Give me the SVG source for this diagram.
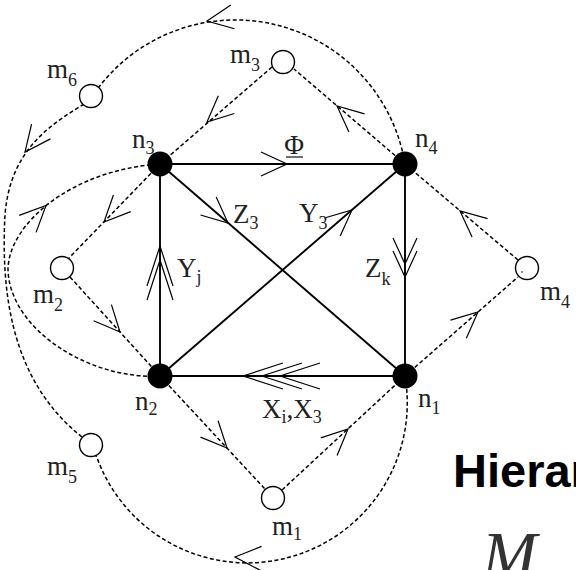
<svg xmlns="http://www.w3.org/2000/svg" width="576" height="570" viewBox="0 0 576 570">
<style>
.e{fill:none;stroke:#000;stroke-width:1.9}
.d{fill:none;stroke:#000;stroke-width:1.5;stroke-dasharray:4 2.5}
.ch{fill:none;stroke:#000;stroke-width:1.2}
.dot{fill:#000}
.ring{fill:#fff;stroke:#000;stroke-width:1.4}
.lb{font-family:"Liberation Serif","Times New Roman",serif;font-size:27px;fill:#222}
.sb{font-size:18px}
.title{font-family:"Liberation Sans",Arial,sans-serif;font-weight:bold;font-size:47px;fill:#000}
.big{font-family:"Liberation Serif","Times New Roman",serif;font-style:italic;font-size:66px;fill:#333}
</style>
<defs>
<path id="a" d="M-26,-12 L0,0 L-26,12"/>
<path id="b" d="M-40,-13 L0,0 L-40,13"/>
</defs>
<rect width="576" height="570" fill="#fff"/>
<g id="connectors">
<line class="e" x1="160" y1="164" x2="405" y2="164"/>
<line class="e" x1="160" y1="164" x2="160" y2="376"/>
<line class="e" x1="405" y1="164" x2="405" y2="376"/>
<line class="e" x1="160" y1="376" x2="405" y2="376"/>
<line class="e" x1="160" y1="164" x2="405" y2="376"/>
<line class="e" x1="160" y1="376" x2="405" y2="164"/>
<use class="ch" href="#a" transform="translate(287,164)"/>
<use class="ch" href="#a" transform="translate(228,223) rotate(40.9)"/>
<use class="ch" href="#a" transform="translate(352,210) rotate(-40.9)"/>
<use class="ch" href="#b" transform="translate(160,246) rotate(-90)"/>
<use class="ch" href="#b" transform="translate(160,260) rotate(-90)"/>
<use class="ch" href="#a" transform="translate(405,264) rotate(90)"/>
<use class="ch" href="#a" transform="translate(405,277) rotate(90)"/>
<use class="ch" href="#b" transform="translate(243,376) rotate(180)"/>
<use class="ch" href="#b" transform="translate(262,376) rotate(180)"/>
<use class="ch" href="#b" transform="translate(280,376) rotate(180)"/>
<line class="d" x1="272" y1="67" x2="160" y2="164"/>
<line class="d" x1="405" y1="164" x2="294" y2="69"/>
<line class="d" x1="160" y1="164" x2="69" y2="258"/>
<line class="d" x1="70" y1="277" x2="160" y2="376"/>
<line class="d" x1="160" y1="376" x2="265" y2="489"/>
<line class="d" x1="282" y1="490" x2="405" y2="376"/>
<line class="d" x1="405" y1="376" x2="518" y2="277"/>
<line class="d" x1="518" y1="260" x2="405" y2="164"/>
<path class="d" d="M405 164 A172 172 0 0 0 99 87"/>
<path class="d" d="M84 104 C50 125 10 150 5 215 C1 290 10 380 82 437"/>
<path class="d" d="M160 376 C90 380 10 330 8 270 C8 225 70 170 160 164"/>
<path class="d" d="M405 376 A160 160 0 0 1 96 455"/>
<use class="ch" href="#a" transform="translate(207,122) rotate(138)"/>
<use class="ch" href="#a" transform="translate(337,106) rotate(-139.4)"/>
<use class="ch" href="#a" transform="translate(207,21) rotate(171)"/>
<use class="ch" href="#a" transform="translate(25,152) rotate(128)"/>
<use class="ch" href="#a" transform="translate(46,205.5) rotate(-45)"/>
<use class="ch" href="#a" transform="translate(104,222) rotate(134)"/>
<use class="ch" href="#a" transform="translate(120,332) rotate(47.8)"/>
<use class="ch" href="#a" transform="translate(227,448) rotate(47.1)"/>
<use class="ch" href="#a" transform="translate(348,429) rotate(-42.8)"/>
<use class="ch" href="#a" transform="translate(478,312) rotate(-41.2)"/>
<use class="ch" href="#a" transform="translate(460,211) rotate(-139.7)"/>
<use class="ch" href="#a" transform="translate(235,557) rotate(183)"/>
<text class="lb" x="294" y="154" text-anchor="middle">Φ</text>
<line x1="286" y1="157" x2="303" y2="157" stroke="#222" stroke-width="1.3"/>
<text class="lb" x="233" y="223">Z<tspan class="sb" dy="6">3</tspan></text>
<text class="lb" x="299" y="222">Y<tspan class="sb" dy="7">3</tspan></text>
<text class="lb" x="177" y="277">Y<tspan class="sb" dy="6">j</tspan></text>
<text class="lb" x="365" y="277">Z<tspan class="sb" dy="8">k</tspan></text>
<text class="lb" x="262" y="418">X<tspan class="sb" dy="5">i</tspan><tspan dy="-5">,X</tspan><tspan class="sb" dy="5">3</tspan></text>
</g>
<g id="n3"><circle class="dot" cx="160" cy="164" r="12.5"/><text class="lb" x="132" y="148">n<tspan class="sb" dy="6">3</tspan></text></g>
<g id="n4"><circle class="dot" cx="405" cy="164" r="12.5"/><text class="lb" x="415" y="147">n<tspan class="sb" dy="7">4</tspan></text></g>
<g id="n2"><circle class="dot" cx="160" cy="376" r="12.5"/><text class="lb" x="135" y="410">n<tspan class="sb" dy="5">2</tspan></text></g>
<g id="n1"><circle class="dot" cx="405" cy="376" r="12.5"/><text class="lb" x="418" y="407">n<tspan class="sb" dy="7">1</tspan></text></g>
<g id="m1"><circle class="ring" cx="273" cy="498" r="11.5"/><text class="lb" x="272" y="535">m<tspan class="sb" dy="5">1</tspan></text></g>
<g id="m2"><circle class="ring" cx="62" cy="268" r="11.5"/><text class="lb" x="33" y="303">m<tspan class="sb" dy="8">2</tspan></text></g>
<g id="m3"><circle class="ring" cx="283" cy="62" r="11.5"/><text class="lb" x="230" y="63">m<tspan class="sb" dy="8">3</tspan></text></g>
<g id="m4"><circle class="ring" cx="527" cy="268" r="11.5"/><circle class="dot" cx="522" cy="272" r="0.8"/><text class="lb" x="540" y="300">m<tspan class="sb" dy="8">4</tspan></text></g>
<g id="m5"><circle class="ring" cx="91" cy="445" r="11.5"/><text class="lb" x="47" y="475">m<tspan class="sb" dy="8">5</tspan></text></g>
<g id="m6"><circle class="ring" cx="91" cy="96" r="11.5"/><text class="lb" x="47" y="78">m<tspan class="sb" dy="8">6</tspan></text></g>
<text class="title" x="453" y="487">Hierar</text>
<text class="big" x="482" y="577">M</text>
</svg>
